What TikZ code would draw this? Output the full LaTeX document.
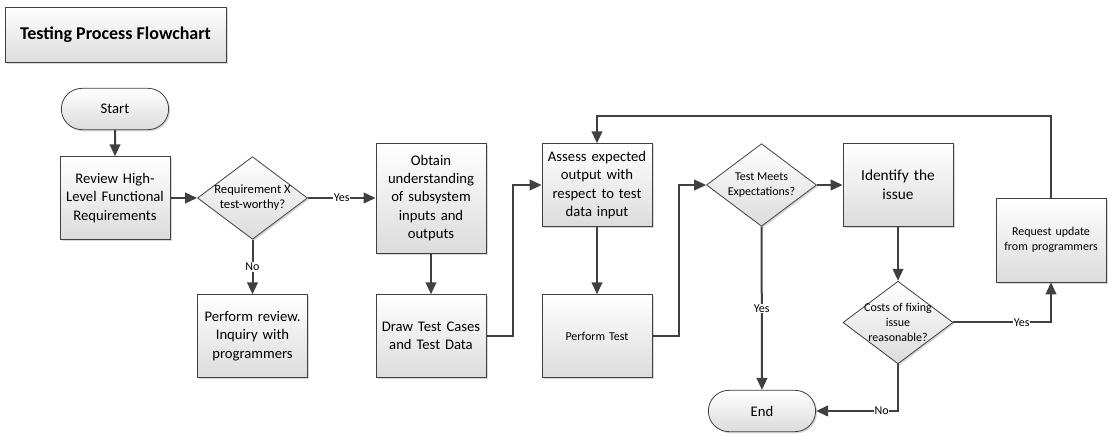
\documentclass[tikz,border=0pt]{standalone}
\usepackage{fontspec}
\setmainfont{Carlito}
\usetikzlibrary{shapes.geometric,shapes.misc,arrows.meta,shadows}
\definecolor{linegray}{HTML}{404040}
\definecolor{boxgray}{HTML}{DCDCDC}
\begin{document}
\begin{tikzpicture}[x=0.75pt, y=-0.75pt,
    shade/.style={draw=linegray, line width=0.6pt, top color=white, bottom color=boxgray,
      drop shadow={shadow xshift=1.2pt, shadow yshift=-1.2pt, fill=black!30}},
    box/.style={shade, minimum width=82.5pt, minimum height=62pt, text width=78pt,
      align=center, inner sep=1pt, font=\fontsize{11}{13.75}\selectfont},
    small/.style={font=\fontsize{9}{11}\selectfont},
    term/.style={box, rounded rectangle, minimum height=31pt},
    decision/.style={shade, diamond, minimum width=82.5pt, minimum height=62pt, inner sep=0pt},
    dtext/.style={align=center, font=\fontsize{9}{11}\selectfont},
    flow/.style={draw=linegray, line width=1.5pt, -{Triangle[length=9pt, width=8pt]}},
    lab/.style={fill=white, inner sep=0.5pt, font=\fontsize{9}{11}\selectfont}]
  \useasboundingbox (0, 0) rectangle (1115, 441);
  \node[box, minimum width=165.75pt, minimum height=41.25pt, text width=, 
    font=\bfseries\fontsize{13.5}{16}\selectfont] (title) at (115.5, 34.5) {Testing Process Flowchart};
  \node[term] (start) at (115, 109) {Start};
  \node[box] (review) at (115, 198) {Review High-\\Level Functional\\Requirements};
  \node[decision, label={[dtext, font=\fontsize{9.5}{11.5}\selectfont]center:{Requirement X\\test-worthy?}}]
    (worthy) at (252.5, 198) {};
  \node[box, minimum height=82.5pt] (obtain) at (431, 198)
    {Obtain\\understanding\\of subsystem\\inputs and\\outputs};
  \node[box] (inquiry) at (252.5, 336) {Perform review.\\Inquiry with\\programmers};
  \node[box] (cases) at (431, 336) {Draw Test Cases\\and Test Data};
  \node[box] (assess) at (597, 185) {Assess expected\\output with\\respect to test\\data input};
  \node[box, small] (perform) at (597, 336) {Perform Test};
  \node[decision, label={[dtext]center:{Test Meets\\Expectations?}}] (meets) at (761.5, 185) {};
  \node[box, font=\fontsize{11.5}{14}\selectfont] (identify) at (898, 185) {Identify the\\issue};
  \node[decision, label={[dtext]center:{Costs of fixing\\issue\\reasonable?}}] (costs) at (898, 322.5) {};
  \node[box, small, minimum height=63pt] (request) at (1051, 240) {Request update\\from programmers};
  \node[term] (end) at (762, 411) {End};

  \draw[flow] (start) -- (review);
  \draw[flow] (review) -- (worthy);
  \draw[flow] (worthy) -- node[lab] {Yes} (obtain);
  \draw[flow] (worthy) -- node[lab] {No} (inquiry);
  \draw[flow] (obtain) -- (cases);
  \draw[flow] (cases.east) -- ++(27, 0) |- (assess.west);
  \draw[flow] (assess) -- (perform);
  \draw[flow] (perform.east) -- ++(27, 0) |- (meets.west);
  \draw[flow] (meets) -- (identify);
  \draw[flow] (meets) -- node[lab] {Yes} (end);
  \draw[flow] (identify) -- (costs);
  \draw[flow] (costs.east) -| node[lab, pos=0.35] {Yes} (request.south);
  \draw[flow] (costs.south) |- node[lab, pos=0.6] {No} (end.east);
  \draw[flow] (request.north) -- ++(0, -82) -| (assess.north);
\end{tikzpicture}
\end{document}
